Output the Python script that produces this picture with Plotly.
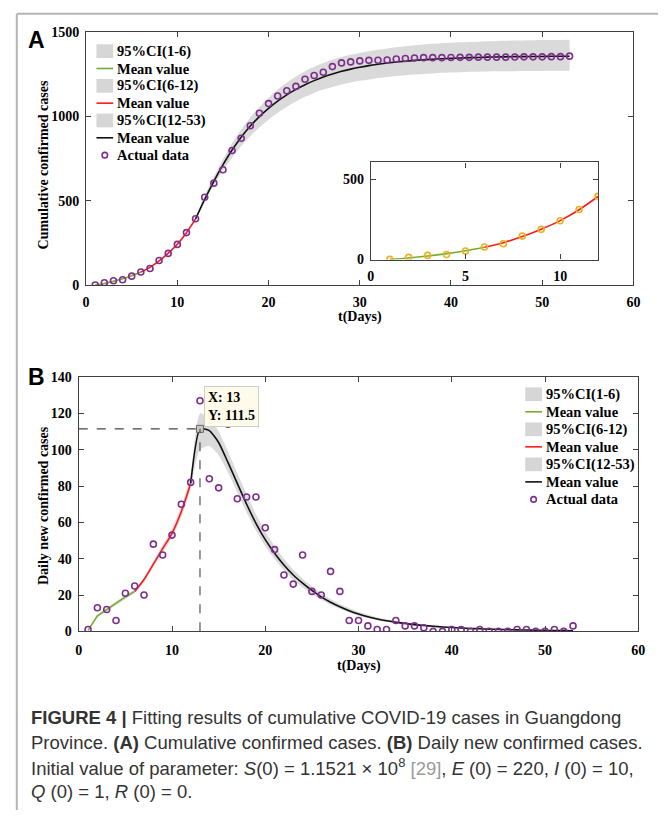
import plotly.graph_objects as go

W, H = 665, 818
def px(x): return x / W
def py(y): return 1 - y / H

# ---------------- data ----------------
DAYS = list(range(1, 54))
CUM_ACTUAL = [1, 14, 26, 32, 53, 78, 98, 146, 188, 241,
              311, 393, 520, 604, 683, 797, 870, 944, 1018, 1075,
              1120, 1151, 1177, 1219, 1241, 1261, 1294, 1316, 1322, 1328,
              1331, 1332, 1333, 1339, 1342, 1345, 1347, 1347, 1347, 1348,
              1349, 1349, 1350, 1350, 1350, 1350, 1351, 1352, 1352, 1352,
              1353, 1353, 1356]
DAILY_ACTUAL = [1, 13, 12, 6, 21, 25, 20, 48, 42, 53,
                70, 82, 127, 84, 79, 114, 73, 74, 74, 57,
                45, 31, 26, 42, 22, 20, 33, 22, 6, 6,
                3, 1, 1, 6, 3, 3, 2, 0, 0, 1,
                1, 0, 1, 0, 0, 0, 1, 1, 0, 0,
                1, 0, 3]

GREEN_DAYS = [1, 2, 3, 4, 5, 6]
RED_DAYS = [6, 7, 8, 9, 10, 11, 12]
BLACK_DAYS = list(range(12, 54))

# Panel A (cumulative) model
A_GREEN_MEAN = [1, 10, 22, 37, 55, 77]
A_GREEN_UP = [2, 11.5, 24, 39.5, 58, 80]
A_GREEN_LO = [0.5, 8.5, 20, 34.5, 52, 74]
A_RED_MEAN = [77, 105, 143, 189, 242, 310, 392]
A_RED_UP = [80, 109, 148, 195, 249, 318, 400]
A_RED_LO = [74, 101, 138, 183, 235, 302, 384]
A_BLACK_MEAN = [392, 508, 615, 712, 800, 876, 942, 998, 1047, 1090,
                1127, 1159, 1187, 1211, 1232, 1250, 1266, 1279, 1290, 1300,
                1308, 1315, 1321, 1326, 1331, 1335, 1338, 1341, 1343, 1345,
                1347, 1348, 1350, 1351, 1352, 1353, 1353, 1354, 1354, 1355,
                1355, 1355]
A_BLACK_UP = [398, 530, 640, 745, 840, 922, 993, 1055, 1110, 1158,
              1200, 1236, 1267, 1293, 1316, 1335, 1351, 1364, 1375, 1385,
              1394, 1402, 1409, 1415, 1420, 1425, 1429, 1432, 1435, 1438,
              1440, 1442, 1444, 1446, 1447, 1448, 1449, 1450, 1451, 1452,
              1452, 1453]
A_BLACK_LO = [388, 495, 592, 678, 755, 823, 882, 934, 980, 1021,
              1057, 1088, 1115, 1138, 1158, 1174, 1188, 1200, 1210, 1218,
              1226, 1232, 1238, 1243, 1247, 1251, 1254, 1257, 1259, 1261,
              1263, 1264, 1265, 1266, 1267, 1267, 1268, 1268, 1268, 1269,
              1269, 1269]

# Panel B (daily) model
B_GREEN_MEAN = [0.5, 8.5, 12, 15.5, 19, 22]
B_GREEN_UP = [0.8, 9.2, 12.8, 16.4, 20, 23]
B_GREEN_LO = [0.2, 7.8, 11.2, 14.6, 18, 21]
B_RED_MEAN = [22, 28.5, 37, 45.5, 54, 66, 81.5]
B_RED_UP = [23, 29.8, 38.6, 47.5, 56.5, 69, 85]
B_RED_LO = [21, 27.2, 35.4, 43.5, 51.5, 63, 78]
B_BLACK_MEAN = [81.5, 111.5, 110.5, 104, 93, 81.5, 70, 59.5, 50.5, 43,
                36.5, 31, 26.5, 22.5, 19, 16, 13.5, 11.3, 9.5, 8,
                6.8, 5.8, 5, 4.3, 3.7, 3.2, 2.8, 2.4, 2.1, 1.8,
                1.6, 1.4, 1.2, 1.05, 0.9, 0.8, 0.7, 0.6, 0.5, 0.45,
                0.4, 0.35]
B_BLACK_UP = [84, 120, 117.5, 110, 99, 87, 75.5, 64.5, 55, 47,
              40, 34, 29, 24.8, 21, 17.8, 15, 12.7, 10.8, 9.2,
              7.8, 6.7, 5.8, 5, 4.3, 3.7, 3.2, 2.8, 2.4, 2.1,
              1.8, 1.6, 1.4, 1.2, 1.05, 0.9, 0.8, 0.7, 0.6, 0.55,
              0.5, 0.45]
B_BLACK_LO = [79, 100, 102, 97, 87.5, 76.5, 65.5, 55.5, 47, 39.8,
              33.6, 28.4, 24.2, 20.6, 17.4, 14.6, 12.3, 10.3, 8.6, 7.2,
              6.1, 5.2, 4.4, 3.8, 3.2, 2.8, 2.4, 2.1, 1.8, 1.6,
              1.4, 1.2, 1.0, 0.9, 0.8, 0.7, 0.6, 0.5, 0.42, 0.38,
              0.34, 0.3]

PEAK_X, PEAK_Y = 13, 111.5
INSET_DAYS = DAYS[:12]
INSET_CUM = CUM_ACTUAL[:12]

CI_LABELS = ["95%CI(1-6)", "95%CI(6-12)", "95%CI(12-53)"]
MEAN_LABEL = "Mean value"
DATA_LABEL = "Actual data"

# ---------------- styles ----------------
GREEN = "#77AC30"
RED = "#FF1A1A"
BLACK = "#111111"
PURPLE = "#7E2F8E"
ORANGE = "#EDB120"
BAND = "rgba(214,214,214,0.9)"
SERIF = "Liberation Serif, Times New Roman, serif"

fig = go.Figure()

def add_segment(xs, lo, up, mean, color, xa, ya, shape, smooth=1.0):
    fig.add_trace(go.Scatter(x=xs, y=lo, mode="lines", line=dict(width=0, shape=shape, smoothing=smooth),
                             xaxis=xa, yaxis=ya, showlegend=False, hoverinfo="skip"))
    fig.add_trace(go.Scatter(x=xs, y=up, mode="lines", line=dict(width=0, shape=shape, smoothing=smooth),
                             fill="tonexty", fillcolor=BAND, xaxis=xa, yaxis=ya, showlegend=False))
    fig.add_trace(go.Scatter(x=xs, y=mean, mode="lines",
                             line=dict(color=color, width=1.6, shape=shape, smoothing=smooth),
                             xaxis=xa, yaxis=ya, showlegend=False))

# Panel A
add_segment(GREEN_DAYS, A_GREEN_LO, A_GREEN_UP, A_GREEN_MEAN, GREEN, "x", "y", "spline")
add_segment(RED_DAYS, A_RED_LO, A_RED_UP, A_RED_MEAN, RED, "x", "y", "spline")
add_segment(BLACK_DAYS, A_BLACK_LO, A_BLACK_UP, A_BLACK_MEAN, BLACK, "x", "y", "spline")
fig.add_trace(go.Scatter(x=DAYS, y=CUM_ACTUAL, mode="markers",
                         marker=dict(symbol="circle-open", size=6, color=PURPLE, line=dict(width=1.6, color=PURPLE)),
                         xaxis="x", yaxis="y", showlegend=False))

# Inset
fig.add_trace(go.Scatter(x=GREEN_DAYS, y=A_GREEN_MEAN, mode="lines", line=dict(color=GREEN, width=1.6, shape="spline"),
                         xaxis="x2", yaxis="y2", showlegend=False))
fig.add_trace(go.Scatter(x=RED_DAYS, y=A_RED_MEAN, mode="lines", line=dict(color=RED, width=1.6, shape="spline"),
                         xaxis="x2", yaxis="y2", showlegend=False))
fig.add_trace(go.Scatter(x=INSET_DAYS, y=INSET_CUM, mode="markers",
                         marker=dict(symbol="circle-open", size=6, color=ORANGE, line=dict(width=1.6, color=ORANGE)),
                         xaxis="x2", yaxis="y2", showlegend=False))

# Panel B
add_segment(GREEN_DAYS, B_GREEN_LO, B_GREEN_UP, B_GREEN_MEAN, GREEN, "x3", "y3", "linear")
add_segment(RED_DAYS, B_RED_LO, B_RED_UP, B_RED_MEAN, RED, "x3", "y3", "spline")
add_segment(BLACK_DAYS, B_BLACK_LO, B_BLACK_UP, B_BLACK_MEAN, BLACK, "x3", "y3", "spline", 0.55)
fig.add_trace(go.Scatter(x=DAYS, y=DAILY_ACTUAL, mode="markers",
                         marker=dict(symbol="circle-open", size=6, color=PURPLE, line=dict(width=1.6, color=PURPLE)),
                         xaxis="x3", yaxis="y3", showlegend=False))
fig.add_trace(go.Scatter(x=[PEAK_X], y=[PEAK_Y], mode="markers",
                         marker=dict(symbol="square", size=7, color="#c9c9c0", line=dict(width=1, color="#666")),
                         xaxis="x3", yaxis="y3", showlegend=False))

tickfont = dict(family=SERIF, size=14, color="black", weight="bold")
def axis(**kw):
    d = dict(showline=True, linecolor="#404040", linewidth=1.3, mirror="allticks",
             ticks="inside", ticklen=5, tickwidth=1.2, tickcolor="#404040",
             showgrid=False, zeroline=False, tickfont=tickfont, fixedrange=True)
    d.update(kw)
    return d

fig.update_layout(
    width=W, height=H, autosize=False,
    margin=dict(l=0, r=0, t=0, b=0),
    paper_bgcolor="white", plot_bgcolor="white",
    showlegend=False,
    xaxis=axis(domain=[px(83.5), px(640)], range=[0, 60], tickvals=[0, 10, 20, 30, 40, 50, 60],
               anchor="y", ticklabelstandoff=4),
    yaxis=axis(domain=[py(283.3), py(25.3)], range=[0, 1500], tickvals=[0, 500, 1000, 1500],
               anchor="x", ticklabelstandoff=3),
    xaxis2=axis(domain=[px(373), px(604)], range=[0, 12], tickvals=[0, 5, 10],
                anchor="y2", ticklabelstandoff=3),
    yaxis2=axis(domain=[py(257.3), py(158.3)], range=[0, 604], tickvals=[0, 500],
                anchor="x2", ticklabelstandoff=3),
    xaxis3=axis(domain=[px(76), px(645)], range=[0, 60], tickvals=[0, 10, 20, 30, 40, 50, 60],
                anchor="y3", ticklabelstandoff=6),
    yaxis3=axis(domain=[py(636), py(377)], range=[0, 140], tickvals=list(range(0, 141, 20)),
                anchor="x3", ticklabelstandoff=3),
)

shapes = []
# dashed guide lines to the peak
shapes.append(dict(type="line", xref="x3", yref="y3", x0=0, x1=PEAK_X, y0=PEAK_Y, y1=PEAK_Y,
                   line=dict(color="#444", width=1.1, dash="dash")))
shapes.append(dict(type="line", xref="x3", yref="y3", x0=PEAK_X, x1=PEAK_X, y0=0, y1=PEAK_Y,
                   line=dict(color="#444", width=1.1, dash="dash")))
# figure frame
shapes.append(dict(type="line", xref="paper", yref="paper", x0=px(13), x1=px(13), y0=0, y1=py(7),
                   line=dict(color="#b4b4b4", width=2)))
shapes.append(dict(type="line", xref="paper", yref="paper", x0=px(13), x1=1, y0=py(7), y1=py(7),
                   line=dict(color="#b4b4b4", width=2)))

ann = []
legfont = dict(family=SERIF, size=14.5, color="black", weight="bold")

def legend_block(sx0, sx1, y_top, step):
    entries = [("box", None, CI_LABELS[0]), ("line", GREEN, MEAN_LABEL),
               ("box", None, CI_LABELS[1]), ("line", RED, MEAN_LABEL),
               ("box", None, CI_LABELS[2]), ("line", BLACK, MEAN_LABEL),
               ("circle", PURPLE, DATA_LABEL)]
    for i, (kind, col, label) in enumerate(entries):
        yc = y_top + i * step
        if kind == "box":
            shapes.append(dict(type="rect", xref="paper", yref="paper", x0=px(sx0), x1=px(sx1),
                               y0=py(yc + 7), y1=py(yc - 7), line=dict(width=0),
                               fillcolor="rgb(214,214,214)"))
        elif kind == "line":
            shapes.append(dict(type="line", xref="paper", yref="paper", x0=px(sx0), x1=px(sx1),
                               y0=py(yc), y1=py(yc), line=dict(color=col, width=1.6)))
        else:
            cx = (sx0 + sx1) / 2
            shapes.append(dict(type="circle", xref="paper", yref="paper", x0=px(cx - 2.8), x1=px(cx + 2.8),
                               y0=py(yc + 2.8), y1=py(yc - 2.8), line=dict(color=col, width=1.6)))
        ann.append(dict(text=label, x=px(sx1 + 2), y=py(yc), xref="paper", yref="paper",
                        xanchor="left", yanchor="middle", showarrow=False, font=legfont))

legend_block(94, 111, 45, 17.65)
legend_block(530, 547, 394.5, 17.85)

titlefont = dict(family=SERIF, size=14, color="black", weight="bold")
labfont = dict(family="Liberation Sans, Arial", size=23, color="black", weight="bold")
def lab(text, x, y, font, **kw):
    d = dict(text=text, x=px(x), y=py(y), xref="paper", yref="paper", showarrow=False,
             xanchor="center", yanchor="middle", font=font)
    d.update(kw)
    ann.append(d)

lab("A", 33, 34, labfont)
lab("B", 33.5, 377, labfont)
lab("Cumulative confirmed cases", 40, 161, titlefont, textangle=-90)
lab("Daily new confirmed cases", 40, 508, titlefont, textangle=-90)
lab("t(Days)", 362, 316, titlefont)
lab("t(Days)", 361, 671, titlefont)
ann.append(dict(text=f"X: {PEAK_X}<br>Y: {PEAK_Y}", x=px(203), y=py(386), xref="paper", yref="paper",
                xanchor="left", yanchor="top", align="left", showarrow=False,
                bgcolor="#FFFBEA", bordercolor="#cfcfc4", borderwidth=1, borderpad=3,
                font=titlefont))

capfont = dict(family="Liberation Sans, Arial, sans-serif", size=18.5, color="#333333")
cap_lines = [
    "<b>FIGURE 4 |</b> Fitting results of cumulative COVID-19 cases in Guangdong",
    "Province. <b>(A)</b> Cumulative confirmed cases. <b>(B)</b> Daily new confirmed cases.",
    "Initial value of parameter: <i>S</i>(0) = 1.1521 × 10<sup>8</sup> <span style='color:#9a9a9a'>[29]</span>, <i>E</i> (0) = 220, <i>I</i> (0) = 10,",
    "<i>Q</i> (0) = 1, <i>R</i> (0) = 0.",
]
for i, t in enumerate(cap_lines):
    ann.append(dict(text=t, x=px(25), y=py(724 + 25 * i), xref="paper", yref="paper",
                    xanchor="left", yanchor="middle", showarrow=False, font=capfont))

fig.update_layout(annotations=ann, shapes=shapes)
fig.write_html("out.html")
